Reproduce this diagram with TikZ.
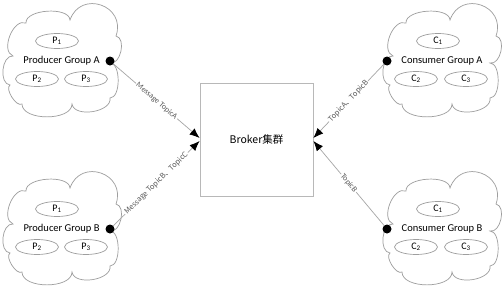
\documentclass[tikz,border=0pt]{standalone}
\usepackage{fontspec}
\setmainfont{Carlito}
\newfontfamily\cjk{Noto Sans CJK SC}
\usetikzlibrary{arrows.meta,shapes.geometric}
\begin{document}
\begin{tikzpicture}[x=1pt,y=1pt,
  cloudline/.style={draw=black!38, line width=0.7pt},
  member/.style={ellipse, draw=black!38, line width=0.7pt, minimum width=43pt, minimum height=15pt, inner sep=0pt, font=\fontsize{10}{12}\selectfont},
  grouplabel/.style={font=\fontsize{10.5}{12}\selectfont, inner sep=0pt},
  port/.style={circle, fill=black, minimum size=9pt, inner sep=0pt},
  link/.style={draw=black!35, line width=0.7pt, -{Latex[length=10pt,width=8pt,black]}},
  linklabel/.style={midway, sloped, fill=white, inner sep=1pt, font=\fontsize{8}{9}\selectfont, text=black!65},
  cjklabel/.style={linklabel, font=\cjk\fontsize{7.4}{9}\selectfont},
  brokerbox/.style={draw=black!28, line width=0.8pt, minimum width=113pt, minimum height=113pt, font=\fontsize{10.5}{12}\selectfont},
  groupcloud/.pic={
    \draw[cloudline] (13,-56)
      to[bend left=90,looseness=1.0] (26,-23)
      to[bend left=90,looseness=0.8] (70,-20)
      to[bend left=90,looseness=1.7] (116,-36)
      to[bend left=90,looseness=1.0] (110,-63)
      to[bend left=90,looseness=0.8] (110,-98)
      to[bend left=90,looseness=0.95] (72,-104)
      to[bend left=90,looseness=0.88] (22,-104)
      to[bend left=90,looseness=0.75] (10,-85)
      to[bend left=90,looseness=1.0] (13,-56) -- cycle;
  }
]
\fill[white] (0,0) rectangle (503,-289);
\useasboundingbox (0,0) rectangle (503,-289);

% clouds
\pic at (0,0) {groupcloud};
\pic at (0,-168) {groupcloud};
\pic at (380,0) {groupcloud};
\pic at (380,-168) {groupcloud};

% Producer Group A
\node[member] (pa1) at (57,-41) {P\textsubscript{1}};
\node[grouplabel] (pal) at (61.5,-61) {Producer Group A};
\node[member] (pa2) at (37,-79) {P\textsubscript{2}};
\node[member] (pa3) at (86,-79) {P\textsubscript{3}};
\node[port] (dA) at (110,-61) {};

% Producer Group B
\node[member] (pb1) at (57,-209) {P\textsubscript{1}};
\node[grouplabel] (pbl) at (61.5,-229) {Producer Group B};
\node[member] (pb2) at (37,-247) {P\textsubscript{2}};
\node[member] (pb3) at (86,-247) {P\textsubscript{3}};
\node[port] (dB) at (110,-229) {};

% Consumer Group A
\node[member] (ca1) at (438,-41) {C\textsubscript{1}};
\node[grouplabel] (cal) at (442,-61) {Consumer Group A};
\node[member] (ca2) at (416,-79) {C\textsubscript{2}};
\node[member] (ca3) at (466,-79) {C\textsubscript{3}};
\node[port] (dC) at (387,-61) {};

% Consumer Group B
\node[member] (cb1) at (438,-209) {C\textsubscript{1}};
\node[grouplabel] (cbl) at (442,-229) {Consumer Group B};
\node[member] (cb2) at (416,-247) {C\textsubscript{2}};
\node[member] (cb3) at (466,-247) {C\textsubscript{3}};
\node[port] (dD) at (387,-229) {};

% Broker
\node[brokerbox] (broker) at (256.5,-139.5) {\cjk Broker集群};

% links
\draw[link] (dA) -- ([yshift=1.5pt]broker.west) node[linklabel] {Message TopicA};
\draw[link] (dB) -- ([yshift=-1.5pt]broker.west) node[cjklabel] {Message TopicB、TopicC};
\draw[link] (dC) -- ([yshift=1.5pt]broker.east) node[cjklabel] {TopicA、TopicB};
\draw[link] (dD) -- ([yshift=-1.5pt]broker.east) node[linklabel] {TopicB};
\end{tikzpicture}
\end{document}
